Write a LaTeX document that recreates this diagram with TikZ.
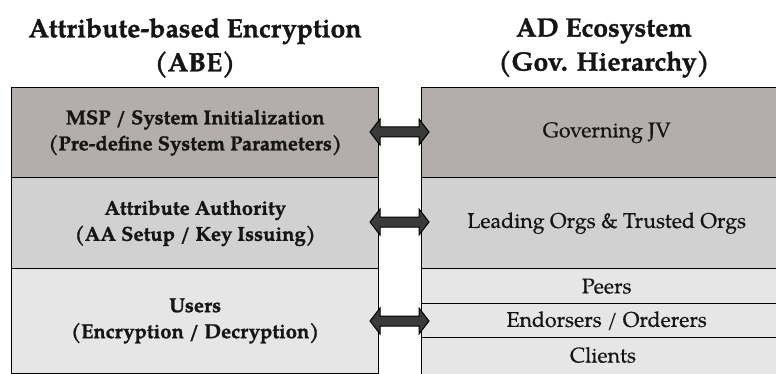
\documentclass[tikz,border=0pt]{standalone}
\usepackage{fontspec}
\setmainfont{texgyrepagella}[Extension=.otf, UprightFont=*-regular, BoldFont=*-bold, ItalicFont=*-italic, BoldItalicFont=*-bolditalic, UprightFeatures={FakeBold=0.4}, BoldFeatures={FakeBold=1.2}]
\usetikzlibrary{calc}
\definecolor{darkgray1}{HTML}{B3AEAC}
\definecolor{midgray1}{HTML}{D1D1D1}
\definecolor{lightgray1}{HTML}{E6E6E6}
\definecolor{arrowfill}{HTML}{3A3A3A}
\definecolor{ink}{HTML}{151515}
\begin{document}
\begin{tikzpicture}[x=1pt,y=-1pt,
  layer/.style={draw=black,line width=1.4pt,inner sep=0pt,anchor=north west},
  lbl/.style={font=\fontsize{20.2}{26}\selectfont\bfseries,align=center,text=ink},
  rlbl/.style={font=\fontsize{21.3}{24}\selectfont,text=ink},
  title/.style={font=\fontsize{26.5}{34}\selectfont\bfseries,align=center,text=ink},
  dblarrow/.style={draw=black,line width=1pt,fill=arrowfill,line join=miter}]
\useasboundingbox (0,0) rectangle (776,374);
\clip (0,0) rectangle (776,374);
% titles
\node[title] (tl) at (195,48) {Attribute-based Encryption\\(ABE)};
\node[title] (tr) at (604,48) {AD Ecosystem\\(Gov. Hierarchy)};
% left column
\node[layer,fill=darkgray1,minimum width=367pt,minimum height=90pt] (l1) at (11,87) {};
\node[layer,fill=midgray1,minimum width=367pt,minimum height=91pt] (l2) at (11,177) {};
\node[layer,fill=lightgray1,minimum width=367pt,minimum height=104.5pt] (l3) at (11,268) {};
\node[lbl] at (l1.center) {MSP / System Initialization\\(Pre-define System Parameters)};
\node[lbl] at (l2.center) {Attribute Authority\\(AA Setup / Key Issuing)};
\node[lbl] at (l3.center) {Users\\(Encryption / Decryption)};
% right column
\node[layer,fill=darkgray1,minimum width=360pt,minimum height=90pt] (r1) at (421,87) {};
\node[layer,fill=midgray1,minimum width=360pt,minimum height=91pt] (r2) at (421,177) {};
\node[layer,fill=lightgray1,minimum width=360pt,minimum height=35pt] (r3) at (421,268) {};
\node[layer,fill=lightgray1,minimum width=360pt,minimum height=34pt] (r4) at (421,303) {};
\node[layer,fill=lightgray1,minimum width=360pt,minimum height=40pt] (r5) at (421,337) {};
\node[rlbl] at ($(r1.center)+(5,0)$) {Governing JV};
\node[rlbl] at ($(r2.center)+(5,0)$) {Leading Orgs \& Trusted Orgs};
\node[rlbl] at ($(r3.center)+(5,0)$) {Peers};
\node[rlbl] at ($(r4.center)+(5,0)$) {Endorsers / Orderers};
\node[rlbl] at (603,355) {Clients};
% double arrows
\foreach \c in {132,222,321}{
  \draw[dblarrow] (370,\c) -- (380,\c-13) -- (380,\c-5) -- (419,\c-5) -- (419,\c-13)
    -- (429,\c) -- (419,\c+13) -- (419,\c+5) -- (380,\c+5) -- (380,\c+13) -- cycle;
}
\end{tikzpicture}
\end{document}
